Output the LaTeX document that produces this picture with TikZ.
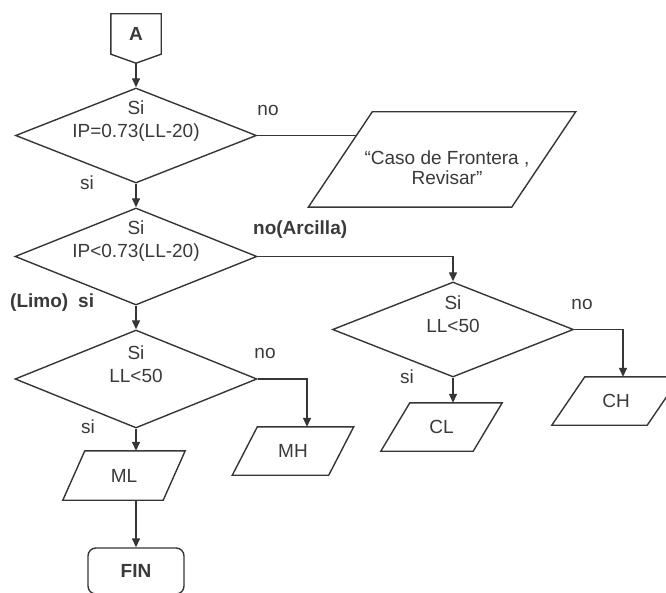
\documentclass[tikz,border=0pt]{standalone}
\usepackage{fontspec}
\setmainfont{Liberation Sans}
\usetikzlibrary{shapes.geometric,arrows.meta}
\definecolor{ink}{HTML}{363636}
\definecolor{txt}{HTML}{3A3A3A}
\newcommand\drawpara[3][]{\draw[par,#1] ([xshift=#3pt]#2.north west) -- ([xshift=#3pt]#2.north east) -- ([xshift=-#3pt]#2.south east) -- ([xshift=-#3pt]#2.south west) -- cycle;}
\begin{document}
\begin{tikzpicture}[x=1pt,y=-1pt,
  every node/.style={font=\fontsize{19}{23}\selectfont, text=txt},
  dia/.style={diamond, draw=ink, line width=1.4pt, inner sep=0pt, aspect=2.5, fill=white},
  lbl/.style={inner sep=0pt},
  blbl/.style={inner sep=0pt, font=\bfseries\fontsize{19}{23}\selectfont},
  box/.style={inner sep=0pt},
  arr/.style={draw=ink, line width=1.4pt, -{Triangle[width=8pt,length=9pt]}},
  con/.style={draw=ink, line width=1.4pt},
  par/.style={draw=ink, line width=1.4pt, line join=miter}
]
\clip (0,0) rectangle (666,593);
\fill[white] (0,0) rectangle (666,593);

% start connector
\node[box, minimum width=50pt, minimum height=40pt, font=\bfseries\fontsize{19}{23}\selectfont] (A) at (136,34) {A};
\draw[con, line join=miter] (A.north west) -- (A.north east) -- (A.south east) -- ([yshift=-9pt]A.south) -- (A.south west) -- cycle;
\coordinate (Atip) at ([yshift=-9pt]A.south);

% decisions
\node[dia, minimum width=241pt, minimum height=95pt] (d1) at (136,135.5) {};
\node[lbl, align=center] (t1) at (136,121.5) {Si\\IP=0.73(LL-20)};
\node[dia, minimum width=242pt, minimum height=97pt] (d2) at (136,256.5) {};
\node[lbl, align=center] (t2) at (136,241.5) {Si\\IP<0.73(LL-20)};
\node[dia, minimum width=242pt, minimum height=98pt] (d3) at (136,379) {};
\node[lbl, align=center] (t3) at (136,364) {Si\\LL<50};
\node[dia, minimum width=241pt, minimum height=95pt] (d4) at (453,329.5) {};
\node[lbl, align=center] (t4) at (453,314.5) {Si\\LL<50};

% outputs
\node[box, minimum width=203pt, minimum height=95pt] (caso) at (442,159.5) {};
\node[box, minimum width=100pt, minimum height=49pt] (ML) at (124,475.5) {ML};
\node[box, minimum width=96pt, minimum height=48pt] (MH) at (293,451) {MH};
\node[box, minimum width=92pt, minimum height=48pt] (CL) at (441.5,427) {CL};
\node[box, minimum width=95pt, minimum height=48pt] (CH) at (616,401) {CH};
\node[draw=ink, line width=1.4pt, rounded corners=8pt, minimum width=96pt, minimum height=46pt, inner sep=0pt, font=\bfseries\fontsize{19}{23}\selectfont] (FIN) at (136,571) {FIN};

% connectors
\draw[arr] (Atip) -- (d1.north);
\draw[arr] (d1.south) -- (d2.north);
\draw[con] (d1.east) -- (d1.east -| caso.center);
\draw[arr] (d2.south) -- (d3.north);
\draw[arr] (d2.east) -| (d4.north);
\draw[arr] (d4.south) -- (d4.south |- CL.north);
\draw[arr] (d4.east) -| ([xshift=7pt]CH.north);
\draw[arr] (d3.east) -| ([xshift=14pt]MH.north);
\draw[arr] (d3.south) -- (d3.south |- ML.north);
\draw[arr] (d3.south |- ML.south) -- (FIN.north);

% parallelograms
\drawpara[fill=white]{caso}{32}
\node[lbl, align=center, font=\fontsize{19}{20}\selectfont] (tc) at (447,168) {“Caso de Frontera ,\\Revisar”};
\drawpara{ML}{11}
\drawpara{MH}{12.5}
\drawpara{CL}{14.5}
\drawpara{CH}{16.5}

% branch labels
\node[lbl] (n1) at (268,110) {no};
\node[lbl] (s1) at (87,183) {si};
\node[blbl, anchor=west] (n2) at (253,230) {no(Arcilla)};
\node[blbl, anchor=west] (s2) at (10,303) {(Limo)\hspace{10pt}si};
\node[lbl] (n3) at (265,353) {no};
\node[lbl] (s3) at (88,427) {si};
\node[lbl] (n4) at (582,304) {no};
\node[lbl] (s4) at (407,377) {si};
\end{tikzpicture}
\end{document}
